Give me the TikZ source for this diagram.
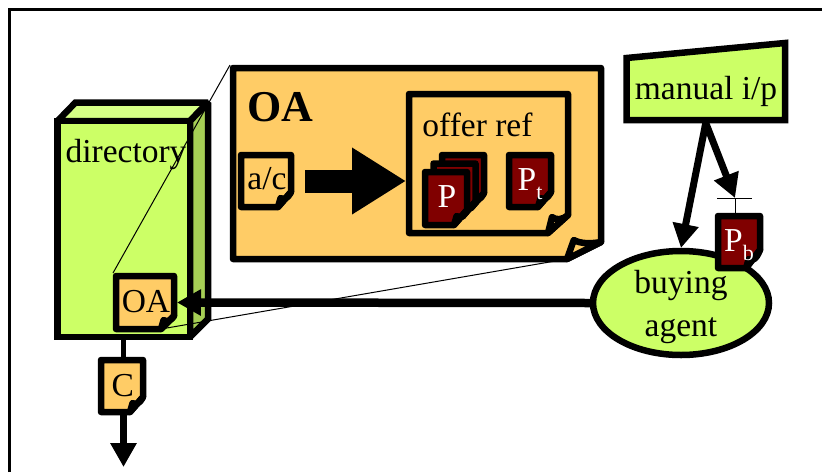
\documentclass[tikz,border=0pt]{standalone}
\usepackage{fontspec}
\setmainfont{Liberation Serif}
\usetikzlibrary{positioning}
\usetikzlibrary{arrows.meta, fit, shapes.geometric}

\definecolor{leaf}{HTML}{CCFF66}
\definecolor{leaftop}{HTML}{D6FF85}
\definecolor{leafside}{HTML}{A6CF55}
\definecolor{sand}{HTML}{FFCC66}
\definecolor{wine}{HTML}{800000}

\tikzset{
    lbl/.style={font=\fontsize{33.5}{40}\selectfont, inner sep=0pt, anchor=base},
    wall/.style={line width=6.5pt, miter limit=2},
    sheet/.style={line width=6.5pt, line join=round},
    thick arrow/.style={line width=7pt, -{Triangle[length=24pt,width=25pt]}},
    thin link/.style={line width=1pt}
}

% name, left, top, right, bottom, fold x, fold y, colour, tab height
\newcommand{\notepage}[9]{
    \draw[sheet, fill=#8] (#2,#3) -- (#4,#3) -- (#4,#5-#7) -- (#4-#6,#5) -- (#2,#5) -- cycle;
    \draw[sheet, fill=#8] (#4-#6,#5) -- (#4-0.8*#6,#5-#9)
        .. controls (#4-0.6*#6,#5-0.8*#9) and (#4-0.3*#6,#5-0.8*#9) .. (#4,#5-#7) -- cycle;
    \node[fit={(#2,#3) (#4,#5)}, inner sep=0pt, outer sep=3pt] (#1) {};
    \coordinate (#1 fold) at (#4-#6,#5);
}

\begin{document}
\begin{tikzpicture}[x=1pt,y=-1pt]
    \useasboundingbox (0,0) rectangle (822,472);
    \draw[line width=3pt] (9.5,472) -- (9.5,9.5) -- (822,9.5);

    % directory box
    \draw[wall, fill=leaftop] (57.5,121) -- (75.5,102.5) -- (208,102.5) -- (190,121) -- cycle;
    \draw[wall, fill=leafside] (190,121) -- (208,102.5) -- (208,319) -- (190,337) -- cycle;
    \node[wall, draw, fill=leaf, minimum width=132.5pt, minimum height=216pt, inner sep=0pt, outer sep=3pt] (directory) at (123.75,229) {};
    \node[lbl] (directorytxt) at (126,162) {directory};

    \notepage{oasmall}{116}{276}{174}{329}{13}{13}{sand}{9}
    \node[lbl] (oasmalltxt) at (146,312) {OA};

    \notepage{oapage}{233}{68}{601}{259}{34}{17}{sand}{19}
    \draw[thin link] (oasmall.north west) -- (oapage.north west);
    \draw[thin link] (oasmall fold) -- (oapage fold);
    \node[lbl, font=\fontsize{44}{50}\selectfont\bfseries] (oatxt) at (280,121) {OA};

    \notepage{offerref}{409}{94}{568}{233}{20}{18}{sand}{16}
    \node[lbl] (offertxt) at (477.5,136) {offer ref};

    \notepage{ac}{241}{155}{291}{207}{13}{15}{sand}{9}
    \node[lbl] (actxt) at (267,189) {a/c};
    \draw[line width=23pt, -{Triangle[length=54pt,width=63pt]}, shorten <=11pt] (ac.east) -- (offerref.west |- ac.east);

    % stack of P pages
    \notepage{pthree}{442}{155}{484}{208}{13}{15}{wine}{9}
    \notepage{ptwo}{433.5}{163.5}{475.5}{216.5}{13}{15}{wine}{9}
    \notepage{pone}{425}{172}{467}{225}{13}{15}{wine}{9}
    \node[lbl, text=white] (ponetxt) at (447,207) {P};
    \notepage{pt}{509}{155}{551}{207}{13}{15}{wine}{9}
    \node[lbl, text=white] (pttxt) at (530,190) {P\raisebox{-9pt}{\fontsize{22}{22}\selectfont t}};

    % manual input
    \draw[wall, fill=leaf] (626.5,58) -- (785,43) -- (785,120) -- (626.5,120) -- cycle;
    \node[fit={(626.5,58) (785,120)}, inner sep=0pt, outer sep=3pt] (manual) {};
    \node[lbl] (manualtxt) at (706,99) {manual i/p};

    % buying agent
    \node[ellipse, draw, line width=6.5pt, fill=leaf, minimum width=176pt, minimum height=104pt, inner sep=0pt, outer sep=3pt] (agent) at (681,303) {};
    \node[lbl] (buyingtxt) at (681,293) {buying};
    \node[lbl] (agenttxt) at (681,336) {agent};

    \notepage{pb}{718}{216}{760}{268}{14}{18}{wine}{9}
    \node[lbl, text=white] (pbtxt) at (739,251) {P\raisebox{-9pt}{\fontsize{22}{22}\selectfont b}};

    \coordinate (pbtick) at (735,198);
    \coordinate (pbtickl) at (717,198);
    \coordinate (pbtickr) at (752,198);
    \draw[thin link] (pbtick) -- (pbtick |- pb.north);
    \draw[thin link] (pbtickl) -- (pbtickr);
    \draw[thick arrow] (manual.south) -- (agent.north);
    \draw[thick arrow] (manual.south) -- (pbtick);

    \draw[thick arrow, line width=8.5pt] (agent.west) -- (oasmall.east);

    % C page under the directory
    \notepage{cpage}{101}{360}{143}{412}{13}{15}{sand}{9}
    \node[lbl] (ctxt) at (122.7,396) {C};
    \coordinate (cout) at (123.5,467);
    \draw[line width=5.5pt] (directory.south -| cout) -- (cpage.north -| cout);
    \draw[thick arrow] (cpage.south -| cout) -- (cout);
\end{tikzpicture}
\end{document}
